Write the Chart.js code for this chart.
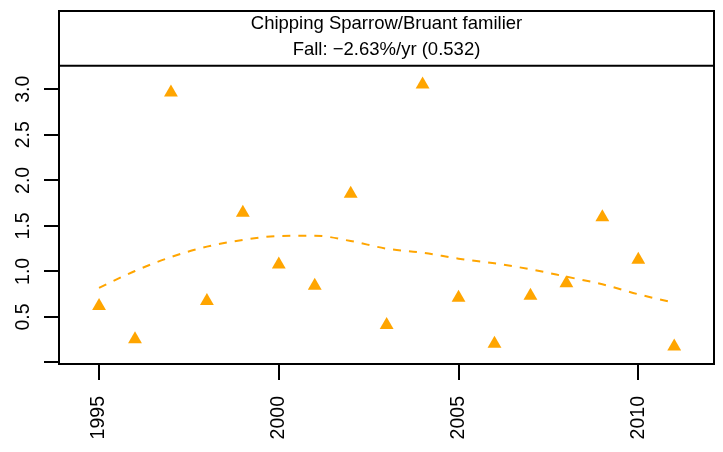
<!DOCTYPE html>
<html>
<head>
<meta charset="utf-8">
<script src="https://cdn.jsdelivr.net/npm/chart.js@4/dist/chart.umd.min.js"></script>
<style>
  html, body { margin: 0; padding: 0; background: #ffffff; }
  #wrap { width: 723px; height: 452px; }
</style>
</head>
<body>
<div id="wrap"><canvas id="chart" width="723" height="452"></canvas></div>
<script>
// Fall migration index, Chipping Sparrow
const years = [1995, 1996, 1997, 1998, 1999, 2000, 2001, 2002, 2003, 2004, 2005, 2006, 2007, 2008, 2009, 2010, 2011];
const counts = [0.619, 0.254, 2.963, 0.674, 1.644, 1.077, 0.842, 1.852, 0.411, 3.053, 0.711, 0.206, 0.733, 0.870, 1.596, 1.128, 0.177];
// smoothed trend through the annual counts
const trend = [0.82, 1.005, 1.158, 1.272, 1.345, 1.389, 1.392, 1.334, 1.25, 1.206, 1.14, 1.089, 1.023, 0.942, 0.859, 0.749, 0.655];
const xTicks = [1995, 2000, 2005, 2010];
const yTicks = [0, 0.5, 1, 1.5, 2, 2.5, 3];
const titleLines = ['Chipping Sparrow/Bruant familier', 'Fall: \u22122.63%/yr (0.532)'];

const FONT = "'Liberation Sans', Arial, Helvetica, sans-serif";
const ORANGE = '#FFA500';

// black frame around plot + header strip, with the divider under the header
const framePlugin = {
  id: 'frame',
  afterDraw(chart) {
    const { ctx, chartArea: a } = chart;
    const top = chart.titleBlock ? chart.titleBlock.top : a.top;
    ctx.save();
    ctx.strokeStyle = '#000000';
    ctx.lineWidth = 2;
    ctx.strokeRect(a.left, top, a.right - a.left, a.bottom - top);
    ctx.beginPath();
    ctx.moveTo(a.left, a.top);
    ctx.lineTo(a.right, a.top);
    ctx.stroke();
    ctx.restore();
  }
};

new Chart(document.getElementById('chart'), {
  type: 'scatter',
  data: {
    datasets: [
      {
        type: 'line',
        data: years.map((x, i) => ({ x, y: trend[i] })),
        borderColor: ORANGE,
        borderWidth: 2,
        borderDash: [8, 8],
        pointRadius: 0,
        cubicInterpolationMode: 'monotone',
        fill: false
      },
      {
        data: years.map((x, i) => ({ x, y: counts[i] })),
        pointStyle: 'triangle',
        pointRadius: 8,
        pointHoverRadius: 8,
        backgroundColor: ORANGE,
        borderColor: ORANGE,
        borderWidth: 0,
        showLine: false
      }
    ]
  },
  options: {
    responsive: false,
    animation: false,
    devicePixelRatio: 1,
    layout: { padding: { top: 11, right: 9, left: 0, bottom: 0 } },
    plugins: {
      legend: { display: false },
      tooltip: { enabled: false },
      title: {
        display: true,
        fullSize: false,
        text: titleLines,
        color: '#000000',
        font: { family: FONT, size: 18.5, weight: 'normal', lineHeight: 25.6 / 18.5 },
        padding: { top: 0.5, bottom: 3 }
      }
    },
    scales: {
      x: {
        type: 'linear',
        min: 1993.886,
        max: 2012.106,
        afterBuildTicks(scale) { scale.ticks = xTicks.map(v => ({ value: v })); },
        afterFit(scale) { scale.height = 88; },
        border: { display: false },
        grid: { drawOnChartArea: false, drawTicks: true, tickLength: 16, tickWidth: 2, tickColor: '#000000', lineWidth: 2, color: '#000000' },
        ticks: {
          autoSkip: false,
          minRotation: 90,
          maxRotation: 90,
          padding: 16,
          color: '#000000',
          font: { family: FONT, size: 19.5 },
          callback: v => String(v)
        }
      },
      y: {
        type: 'linear',
        min: -0.0165,
        max: 3.2586,
        afterBuildTicks(scale) { scale.ticks = yTicks.map(v => ({ value: v })); },
        afterFit(scale) { scale.width = 59; },
        border: { display: false },
        grid: { drawOnChartArea: false, drawTicks: true, tickLength: 15, tickWidth: 2, tickColor: '#000000', lineWidth: 2, color: '#000000' },
        ticks: {
          autoSkip: false,
          minRotation: 90,
          maxRotation: 90,
          crossAlign: 'center',
          padding: 7,
          color: '#000000',
          font: { family: FONT, size: 19.5 },
          callback: v => (v === 0 ? '' : v.toFixed(1))
        }
      }
    }
  },
  plugins: [framePlugin]
});
</script>
</body>
</html>
